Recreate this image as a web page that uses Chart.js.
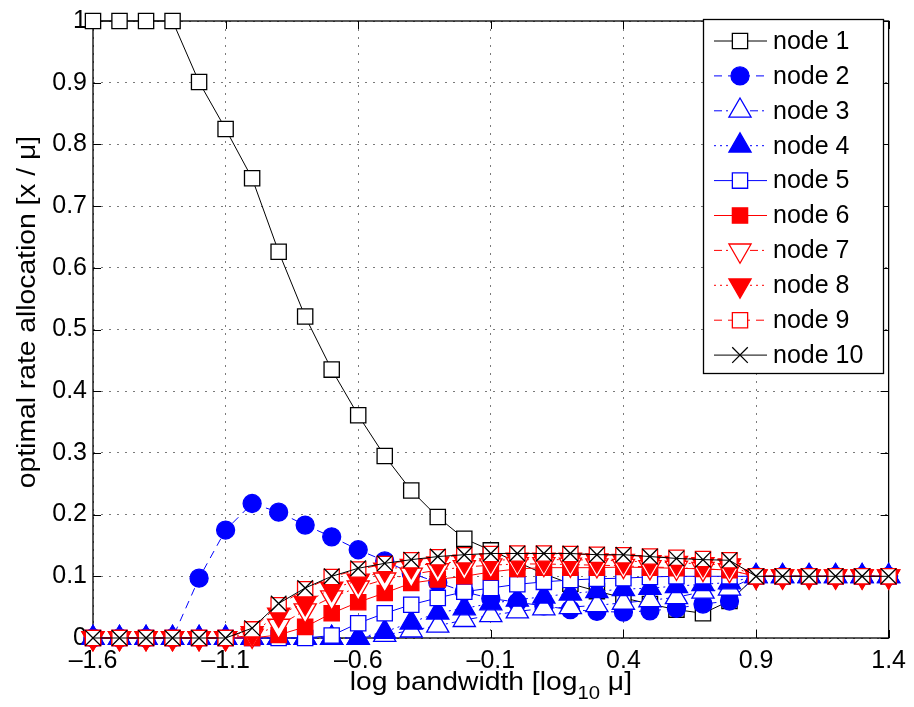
<!DOCTYPE html>
<html>
<head>
<meta charset="utf-8">
<script src="https://cdn.jsdelivr.net/npm/chart.js@4.4.0/dist/chart.umd.min.js"></script>
<style>
html, body { margin: 0; padding: 0; background: #fff; }
#wrap { width: 914px; height: 707px; }
</style>
</head>
<body>
<div id="wrap"><canvas id="grafico" width="914" height="707"></canvas></div>
<script>
const bandwidth = [-1.6, -1.5, -1.4, -1.3, -1.2, -1.1, -1.0, -0.9, -0.8, -0.7, -0.6, -0.5, -0.4, -0.3, -0.2, -0.1,
    0.0, 0.1, 0.2, 0.3, 0.4, 0.5, 0.6, 0.7, 0.8, 0.9, 1.0, 1.1, 1.2, 1.3, 1.4];

const node1 = [1, 1, 1, 1, 0.901, 0.825, 0.745, 0.626, 0.521, 0.435, 0.361, 0.295, 0.239, 0.196, 0.161, 0.142,
    0.123, 0.104, 0.088, 0.076, 0.065, 0.055, 0.046, 0.040, 0.060, 0.1, 0.1, 0.1, 0.1, 0.1, 0.1];
const node2 = [0, 0, 0, 0, 0.097, 0.175, 0.218, 0.204, 0.183, 0.164, 0.143, 0.125, 0.105, 0.090, 0.075, 0.064,
    0.058, 0.052, 0.046, 0.043, 0.042, 0.044, 0.048, 0.055, 0.060, 0.1, 0.1, 0.1, 0.1, 0.1, 0.1];
const node3 = [0, 0, 0, 0, 0, 0, 0, 0, 0, 0, 0, 0.005, 0.012, 0.020, 0.029, 0.037,
    0.043, 0.048, 0.050, 0.053, 0.057, 0.061, 0.066, 0.075, 0.080, 0.1, 0.1, 0.1, 0.1, 0.1, 0.1];
const node4 = [0, 0, 0, 0, 0, 0, 0, 0, 0, 0, 0, 0.010, 0.025, 0.041, 0.048, 0.056,
    0.062, 0.067, 0.072, 0.076, 0.079, 0.081, 0.084, 0.087, 0.090, 0.1, 0.1, 0.1, 0.1, 0.1, 0.1];
const node5 = [0, 0, 0, 0, 0, 0, 0, 0, 0, 0.004, 0.024, 0.040, 0.054, 0.065, 0.075, 0.081,
    0.087, 0.091, 0.094, 0.096, 0.097, 0.099, 0.100, 0.100, 0.100, 0.1, 0.1, 0.1, 0.1, 0.1, 0.1];
const node6 = [0, 0, 0, 0, 0, 0, 0, 0.005, 0.018, 0.040, 0.058, 0.073, 0.089, 0.095, 0.100, 0.107,
    0.112, 0.114, 0.114, 0.114, 0.115, 0.114, 0.113, 0.112, 0.110, 0.1, 0.1, 0.1, 0.1, 0.1, 0.1];
const node7 = [0, 0, 0, 0, 0, 0, 0.004, 0.020, 0.045, 0.066, 0.082, 0.095, 0.103, 0.110, 0.115, 0.118,
    0.120, 0.120, 0.119, 0.118, 0.117, 0.115, 0.114, 0.112, 0.110, 0.1, 0.1, 0.1, 0.1, 0.1, 0.1];
const node8 = [0, 0, 0, 0, 0, 0, 0.008, 0.038, 0.057, 0.080, 0.093, 0.111, 0.117, 0.121, 0.124, 0.126,
    0.127, 0.127, 0.127, 0.126, 0.125, 0.123, 0.122, 0.120, 0.118, 0.1, 0.1, 0.1, 0.1, 0.1, 0.1];
const node9 = [0, 0, 0, 0, 0, 0, 0.014, 0.053, 0.079, 0.099, 0.111, 0.120, 0.126, 0.131, 0.134, 0.136,
    0.137, 0.137, 0.136, 0.135, 0.134, 0.132, 0.130, 0.128, 0.126, 0.1, 0.1, 0.1, 0.1, 0.1, 0.1];
const node10 = [0, 0, 0, 0, 0, 0, 0.016, 0.056, 0.081, 0.100, 0.113, 0.121, 0.127, 0.132, 0.135, 0.137,
    0.137, 0.137, 0.137, 0.135, 0.135, 0.132, 0.129, 0.127, 0.126, 0.1, 0.1, 0.1, 0.1, 0.1, 0.1];

const nomes = ['node 1', 'node 2', 'node 3', 'node 4', 'node 5', 'node 6', 'node 7', 'node 8', 'node 9', 'node 10'];
const series = [node1, node2, node3, node4, node5, node6, node7, node8, node9, node10];
const xTicks = [-1.6, -1.1, -0.6, -0.1, 0.4, 0.9, 1.4];
const yTicks = [0, 0.1, 0.2, 0.3, 0.4, 0.5, 0.6, 0.7, 0.8, 0.9, 1];

const FONTE = '"Liberation Sans", Arial, Helvetica, sans-serif';

// estilo de cada curva (cor, marcador, tracejado)
const estilos = [
    { cor: '#000000', fundo: '#ffffff', ponto: 'rect', raio: 10.8, rot: 0, traco: [] },
    { cor: '#0000ff', fundo: '#0000ff', ponto: 'circle', raio: 9, rot: 0, traco: [8, 6] },
    { cor: '#0000ff', fundo: '#ffffff', ponto: 'triangle', raio: 12.8, rot: 0, traco: [8, 4, 2, 4] },
    { cor: '#0000ff', fundo: '#0000ff', ponto: 'triangle', raio: 12.8, rot: 0, traco: [2, 4] },
    { cor: '#0000ff', fundo: '#ffffff', ponto: 'rect', raio: 10.8, rot: 0, traco: [] },
    { cor: '#ff0000', fundo: '#ff0000', ponto: 'rect', raio: 10.8, rot: 0, traco: [] },
    { cor: '#ff0000', fundo: '#ffffff', ponto: 'triangle', raio: 12.8, rot: 180, traco: [8, 4, 2, 4] },
    { cor: '#ff0000', fundo: '#ff0000', ponto: 'triangle', raio: 12.8, rot: 180, traco: [2, 4] },
    { cor: '#ff0000', fundo: '#ffffff', ponto: 'rect', raio: 10.8, rot: 0, traco: [8, 6] },
    { cor: '#000000', fundo: '#000000', ponto: 'crossRot', raio: 11, rot: 0, traco: [] }
];

const datasets = series.map((valores, i) => {
    const e = estilos[i];
    return {
        label: nomes[i],
        data: valores.map((v, k) => ({ x: bandwidth[k], y: v })),
        borderColor: e.cor,
        borderWidth: 1,
        borderDash: e.traco,
        pointStyle: e.ponto,
        pointRadius: e.raio,
        pointHoverRadius: e.raio,
        pointRotation: e.rot,
        pointBackgroundColor: e.fundo,
        pointBorderColor: e.cor,
        pointBorderWidth: 1.3,
        tension: 0,
        fill: false,
        clip: false,
        order: 10 - i   // node 10 fica por cima
    };
});

function desenharMarcador(ctx, e, x, y) {
    ctx.save();
    ctx.setLineDash([]);
    ctx.lineWidth = 1.3;
    ctx.strokeStyle = e.cor;
    ctx.fillStyle = e.fundo;
    ctx.beginPath();
    const r = e.raio;
    if (e.ponto === 'rect') {
        const s = Math.SQRT1_2 * r;
        ctx.rect(x - s, y - s, 2 * s, 2 * s);
        ctx.fill(); ctx.stroke();
    } else if (e.ponto === 'circle') {
        ctx.arc(x, y, r, 0, Math.PI * 2);
        ctx.fill(); ctx.stroke();
    } else if (e.ponto === 'triangle') {
        let a = e.rot * Math.PI / 180;
        for (let k = 0; k < 3; k++) {
            const px = x + Math.sin(a) * r, py = y - Math.cos(a) * r;
            if (k === 0) ctx.moveTo(px, py); else ctx.lineTo(px, py);
            a += 2 * Math.PI / 3;
        }
        ctx.closePath();
        ctx.fill(); ctx.stroke();
    } else {
        const d = r * Math.SQRT1_2;
        ctx.moveTo(x - d, y - d); ctx.lineTo(x + d, y + d);
        ctx.moveTo(x + d, y - d); ctx.lineTo(x - d, y + d);
        ctx.stroke();
    }
    ctx.restore();
}

// texto esticado na horizontal, como no original
function textoLargo(ctx, txt, x, y, esc) {
    ctx.save();
    ctx.translate(x, y);
    ctx.scale(esc, 1);
    ctx.fillText(txt, 0, 0);
    ctx.restore();
}

const moldura = {
    id: 'moldura',
    beforeDatasetsDraw(chart) {
        const { ctx, chartArea: a, scales } = chart;
        ctx.save();
        ctx.strokeStyle = '#000';
        ctx.lineWidth = 1.3;
        ctx.setLineDash([]);
        ctx.strokeRect(a.left, a.top, a.right - a.left, a.bottom - a.top);
        ctx.lineWidth = 1;
        ctx.beginPath();
        xTicks.forEach(v => {
            const px = Math.round(scales.x.getPixelForValue(v)) + 0.5;
            ctx.moveTo(px, a.bottom); ctx.lineTo(px, a.bottom - 8);
            ctx.moveTo(px, a.top); ctx.lineTo(px, a.top + 8);
        });
        yTicks.forEach(v => {
            const py = Math.round(scales.y.getPixelForValue(v)) + 0.5;
            ctx.moveTo(a.left, py); ctx.lineTo(a.left + 8, py);
            ctx.moveTo(a.right, py); ctx.lineTo(a.right - 8, py);
        });
        ctx.stroke();
        ctx.restore();
    },
    afterDraw(chart) {
        const { ctx, chartArea: a } = chart;
        const esc = 1.13;
        ctx.save();
        ctx.fillStyle = '#000';

        // titulo do eixo y
        ctx.font = '25px ' + FONTE;
        ctx.textAlign = 'center';
        ctx.textBaseline = 'middle';
        ctx.save();
        ctx.translate(28, 312);
        ctx.rotate(-Math.PI / 2);
        ctx.scale(esc, 1);
        ctx.fillText('optimal rate allocation [x / μ]', 0, 0);
        ctx.restore();

        // titulo do eixo x com subscrito
        const p1 = 'log bandwidth [log', sub = '10', p2 = ' μ]';
        ctx.textAlign = 'left';
        ctx.textBaseline = 'alphabetic';
        ctx.font = '25px ' + FONTE;
        const w1 = ctx.measureText(p1).width * esc, w3 = ctx.measureText(p2).width * esc;
        ctx.font = '18px ' + FONTE;
        const w2 = ctx.measureText(sub).width * esc;
        const x0 = (a.left + a.right) / 2 - (w1 + w2 + w3) / 2;
        const base = 690;
        ctx.font = '25px ' + FONTE;
        textoLargo(ctx, p1, x0, base, esc);
        ctx.font = '18px ' + FONTE;
        textoLargo(ctx, sub, x0 + w1, base + 9, esc);
        ctx.font = '25px ' + FONTE;
        textoLargo(ctx, p2, x0 + w1 + w2, base, esc);

        // legenda em caixa
        const lx = 703, ly = 19, lw = 180, lh = 354;
        ctx.fillStyle = '#fff';
        ctx.fillRect(lx, ly, lw, lh);
        ctx.strokeStyle = '#000';
        ctx.lineWidth = 1.3;
        ctx.strokeRect(lx + 0.5, ly + 0.5, lw, lh);
        nomes.forEach((nome, i) => {
            const e = estilos[i];
            const yy = ly + 22 + i * 34.9;
            ctx.save();
            ctx.strokeStyle = e.cor;
            ctx.lineWidth = 1;
            ctx.setLineDash(e.traco);
            ctx.beginPath();
            ctx.moveTo(lx + 11, yy); ctx.lineTo(lx + 64, yy);
            ctx.stroke();
            ctx.restore();
            desenharMarcador(ctx, e, lx + 37, yy);
            ctx.fillStyle = '#000';
            ctx.font = '25px ' + FONTE;
            ctx.textAlign = 'left';
            ctx.textBaseline = 'middle';
            ctx.fillText(nome, lx + 70, yy + 1);
        });
        ctx.restore();
    }
};

const ctx = document.getElementById('grafico').getContext('2d');
new Chart(ctx, {
    type: 'line',
    data: { datasets: datasets },
    options: {
        responsive: false,
        animation: false,
        devicePixelRatio: 1,
        layout: { padding: { left: 0, top: 10, right: 23, bottom: 0 } },
        plugins: { legend: { display: false }, tooltip: { enabled: false } },
        scales: {
            x: {
                type: 'linear',
                min: -1.6,
                max: 1.4,
                afterBuildTicks: s => { s.ticks = xTicks.map(v => ({ value: v })); },
                afterFit: s => { s.height = 69; },
                grid: { color: '#7a7a7a', lineWidth: 1, drawTicks: false },
                border: { display: false, dash: [2, 6] },
                ticks: {
                    padding: 8,
                    color: '#000',
                    font: { family: FONTE, size: 25 },
                    maxRotation: 0,
                    autoSkip: false,
                    callback: v => v.toFixed(1).replace('-', '–')
                }
            },
            y: {
                min: 0,
                max: 1,
                afterBuildTicks: s => { s.ticks = yTicks.map(v => ({ value: v })); },
                afterFit: s => { s.width = 93; },
                grid: { color: '#7a7a7a', lineWidth: 1, drawTicks: false },
                border: { display: false, dash: [2, 6] },
                ticks: {
                    padding: 6,
                    color: '#000',
                    font: { family: FONTE, size: 25 },
                    callback: v => String(Math.round(v * 10) / 10)
                }
            }
        }
    },
    plugins: [moldura]
});
</script>
</body>
</html>
